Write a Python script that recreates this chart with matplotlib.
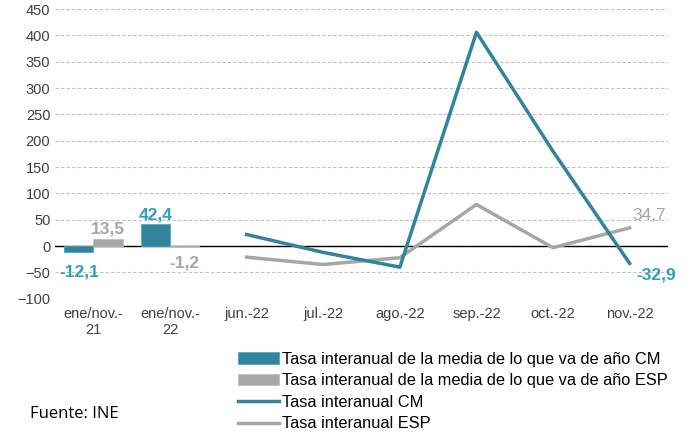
import matplotlib
matplotlib.use("Agg")
import matplotlib.pyplot as plt
import numpy as np

plt.rcParams['font.family'] = ['Liberation Sans', 'DejaVu Sans']

categories = ["ene/nov.-\n21", "ene/nov.-\n22", "jun.-22", "jul.-22", "ago.-22",
              "sep.-22", "oct.-22", "nov.-22"]
bar_cm = [-12.1, 42.4]
bar_esp = [13.5, -1.2]
line_cm = [22, -12, -40, 406, 180, -32.9]
line_esp = [-21, -35, -22, 79, -3, 34.7]

teal = "#31849B"
gray = "#A6A6A6"

fig = plt.figure(figsize=(6.9, 4.33), dpi=100)
ax = fig.add_axes([0.08, 0.31, 0.888, 0.669])

x = np.arange(len(categories))
xb = x[:2]
w = 0.38
b1 = ax.bar(xb - w / 2, bar_cm, w, color=teal, edgecolor="#4BACC6", linewidth=0.6,
            label="Tasa interanual de la media de lo que va de año CM", zorder=3)
b2 = ax.bar(xb + w / 2, bar_esp, w, color=gray, edgecolor="#BFBFBF", linewidth=0.6,
            label="Tasa interanual de la media de lo que va de año ESP", zorder=3)

xl = x[2:]
l1, = ax.plot(xl, line_cm, color=teal, lw=2.5, label="Tasa interanual CM", zorder=4)
l2, = ax.plot(xl, line_esp, color=gray, lw=2.5, label="Tasa interanual ESP", zorder=3)

ax.axhline(0, color="black", lw=1, zorder=2)

# data labels
lab_kw = dict(fontsize=12.5, fontweight="bold", ha="center")
ax.text(xb[0] - w / 2, bar_cm[0] - 22, "-12,1", color="#31A0B8", va="top", **lab_kw)
ax.text(xb[0] + w / 2, bar_esp[0] + 4, "13,5", color=gray, va="bottom", **lab_kw)
ax.text(xb[1] - w / 2, bar_cm[1] + 3, "42,4", color="#31A0B8", va="bottom", **lab_kw)
ax.text(xb[1] + w / 2, bar_esp[1] - 16, "-1,2", color=gray, va="top", **lab_kw)
ax.text(xl[-1] + 0.25, line_esp[-1] + 10, "34,7", color=gray, va="bottom",
        fontsize=12.5, ha="center")
ax.text(xl[-1] + 0.35, line_cm[-1] - 8, "-32,9", color="#31A0B8", va="top", **lab_kw)

ax.set_xlim(-0.5, 7.5)
ax.set_ylim(-100, 450)
ax.set_yticks(np.arange(-100, 451, 50))
ax.set_xticks(x)
ax.set_xticklabels(categories)
ax.tick_params(axis="both", length=0, labelsize=10.5, colors="#404040")
ax.tick_params(axis="x", pad=6)
ax.grid(axis="y", color="#BFBFBF", linestyle=(0, (3, 2)), lw=0.8, zorder=0)
for s in ax.spines.values():
    s.set_visible(False)

fig.legend(handles=[b1, b2, l1, l2], loc="upper left",
           bbox_to_anchor=(0.345, 0.188), frameon=False,
           fontsize=11.8, handlelength=2.5, handletextpad=0.2,
           labelspacing=0.4, borderaxespad=0, borderpad=0)

fig.text(30 / 690, 1 - 414 / 433, "Fuente: INE", fontsize=12,
         family=["Open Sans", "DejaVu Sans"], va="center", color="black")

fig.savefig("out.png", dpi=100)
plt.close()
